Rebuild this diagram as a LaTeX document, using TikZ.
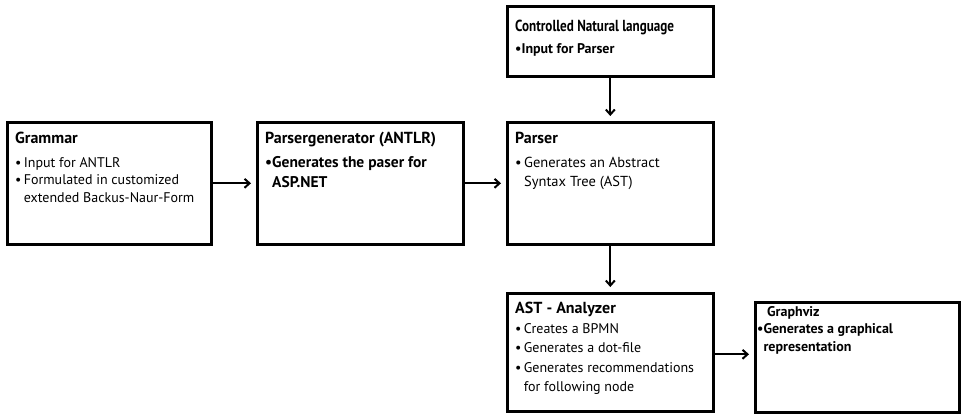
\documentclass[tikz,border=0pt]{standalone}
\usepackage{fontspec}
\setmainfont{PT Sans}
\usetikzlibrary{arrows.meta}
\newcommand\bul{\textbullet}
\newcommand\ind{\phantom{\textbullet}}
\tikzset{
  box/.style={draw, line width=2.6pt, rectangle, anchor=north west, inner sep=0pt},
  ttl/.style={anchor=north west, align=left, inner sep=0pt, font=\fontsize{16}{18}\selectfont\bfseries},
  txt/.style={anchor=north west, align=left, inner sep=0pt, font=\fontsize{14}{17.5}\selectfont},
  btxt/.style={anchor=north west, align=left, inner sep=0pt, font=\fontsize{14}{18}\selectfont\bfseries},
  arr/.style={line width=2pt, -{Straight Barb[length=5pt,width=9pt,line width=2pt]}, shorten >=5pt}
}
\begin{document}
\begin{tikzpicture}[x=1pt,y=-1pt]
\useasboundingbox (0,0) rectangle (961,414);
\node[box, minimum width=204pt, minimum height=122pt] (gram) at (6,121) {};
\node[box, minimum width=206pt, minimum height=122pt] (pg) at (256,121) {};
\node[box, minimum width=206pt, minimum height=70pt] (cnl) at (506,5) {};
\node[box, minimum width=206pt, minimum height=122pt] (parser) at (506,121) {};
\node[box, minimum width=206pt, minimum height=118pt] (ast) at (506,292) {};
\node[box, minimum width=204pt, minimum height=110pt] (gv) at (754,301) {};

\node[ttl] (gramh) at (15,131.5) {Grammar};
\node[txt] (gramt) at (15,157) {\bul\,Input for ANTLR\\\bul\,Formulated in customized\\\ind\,extended Backus-Naur-Form};
\node[ttl] (pgh) at (265,132) {Parsergenerator (ANTLR)};
\node[btxt, font=\fontsize{15.5}{20}\selectfont\bfseries] (pgt) at (265,156) {\bul Generates the paser for\\\ind ASP.NET};
\node[ttl] (cnlh) at (515,19.5) {\scalebox{0.82}[1]{Controlled Natural language}};
\node[btxt] (cnlt) at (515,43) {\bul Input for Parser};
\node[ttl] (parserh) at (515,131.5) {Parser};
\node[txt, font=\fontsize{14.5}{19}\selectfont] (parsert) at (515,157) {\bul\,Generates an Abstract\\\ind\,Syntax Tree (AST)};
\node[ttl] (asth) at (515,301.5) {AST - Analyzer};
\node[txt, font=\fontsize{14}{19.5}\selectfont] (astt) at (515,323) {\bul\,Creates a BPMN\\\bul\,Generates a dot-file\\\bul\,Generates recommendations\\\ind\,for following node};
\node[ttl, font=\fontsize{14}{16}\selectfont\bfseries] (gvh) at (767,306) {Graphviz};
\node[btxt] (gvt) at (757,323) {\bul Generates a graphical\\\ind representation};

\draw[arr] (gram.east) -- (pg.west);
\draw[arr] (pg.east) -- (parser.west);
\draw[arr] (cnl.south) -- (parser.north);
\draw[arr] (parser.south) -- (ast.north);
\draw[arr] ([yshift=-2pt]ast.east) -- ([yshift=-2pt]ast.east -| gv.west);
\end{tikzpicture}
\end{document}
